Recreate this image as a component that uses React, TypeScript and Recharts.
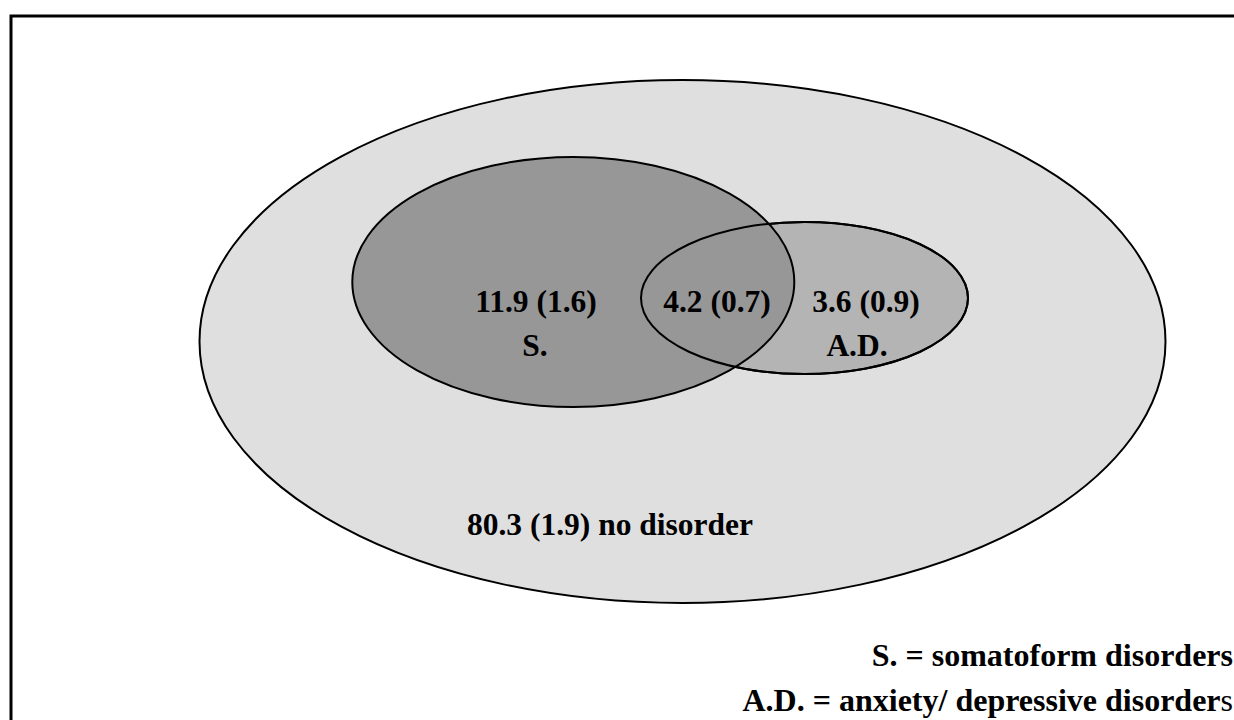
import React from "react"
import { ScatterChart, Scatter, XAxis, YAxis, ReferenceArea } from "recharts"

// canvas units match the 1234x720 picture
const W = 1234
const H = 720

// ellipses: whole sample, anxiety/depressive, somatoform
const regionKeys = ["all", "ad", "s"]
const regionCx = [682.5, 804.5, 573.3]
const regionCy = [341.5, 298, 282]
const regionRx = [483, 163.5, 221]
const regionRy = [261.5, 76, 125]

const labelText = ["11.9 (1.6)", "S.", "4.2 (0.7)", "3.6 (0.9)", "A.D.", "80.3 (1.9) no disorder"]
const labelX = [536, 535, 717, 866, 857, 610]
const labelY = [312, 356, 312, 312, 356, 535]

const legendText = ["S. = somatoform disorders", "A.D. = anxiety/ depressive disorder"]
const legendTail = ["", "s"]
const legendX = [1233, 1233]
const legendY = [666, 711]

const fills: Record<string, string> = { all: "#dfdfdf", ad: "#b4b4b4", s: "#979797" }
const FONT = "'Liberation Serif', 'Times New Roman', serif"

const labels = labelText.map((text, i) => ({ x: labelX[i], y: labelY[i], text }))
const legend = legendText.map((text, i) => ({ x: legendX[i], y: legendY[i], text, tail: legendTail[i] }))

function ellipseShape(fill: string) {
  return (p: any) => {
    const x = Math.min(p.x, p.x + p.width)
    const y = Math.min(p.y, p.y + p.height)
    const w = Math.abs(p.width)
    const h = Math.abs(p.height)
    return <ellipse cx={x + w / 2} cy={y + h / 2} rx={w / 2} ry={h / 2} fill={fill} stroke="#000" strokeWidth={2} />
  }
}

function LabelShape(p: any) {
  return (
    <text x={p.cx} y={p.cy} textAnchor="middle" fontFamily={FONT} fontWeight="bold" fontSize={31.5} fill="#000">
      {p.payload.text}
    </text>
  )
}

function LegendShape(p: any) {
  return (
    <text x={p.cx} y={p.cy} textAnchor="end" fontFamily={FONT} fontWeight="bold" fontSize={32} fill="#000">
      {p.payload.text}
      {p.payload.tail ? <tspan fontWeight="normal">{p.payload.tail}</tspan> : null}
    </text>
  )
}

function area(i: number, fill: string) {
  return (
    <ReferenceArea
      key={regionKeys[i] + fill}
      x1={regionCx[i] - regionRx[i]}
      x2={regionCx[i] + regionRx[i]}
      y1={regionCy[i] - regionRy[i]}
      y2={regionCy[i] + regionRy[i]}
      ifOverflow="visible"
      shape={ellipseShape(fill)}
    />
  )
}

export default function App() {
  return (
    <div style={{ position: "absolute", left: 0, top: 0, width: W, height: H, background: "#fff" }}>
      <ScatterChart width={W} height={H} margin={{ top: 0, right: 0, bottom: 0, left: 0 }}>
        <XAxis type="number" dataKey="x" domain={[0, W]} hide />
        <YAxis type="number" dataKey="y" domain={[0, H]} reversed hide />
        {/* outer frame, runs off the right and bottom edges */}
        <ReferenceArea x1={11} x2={W + 20} y1={16} y2={H + 20} ifOverflow="visible" fill="none" stroke="#000" strokeWidth={3} fillOpacity={0} />
        {area(0, fills.all)}
        {area(1, fills.ad)}
        {area(2, fills.s)}
        {area(1, "none")}
        <Scatter data={labels} shape={LabelShape} isAnimationActive={false} />
        <Scatter data={legend} shape={LegendShape} isAnimationActive={false} />
      </ScatterChart>
    </div>
  )
}
